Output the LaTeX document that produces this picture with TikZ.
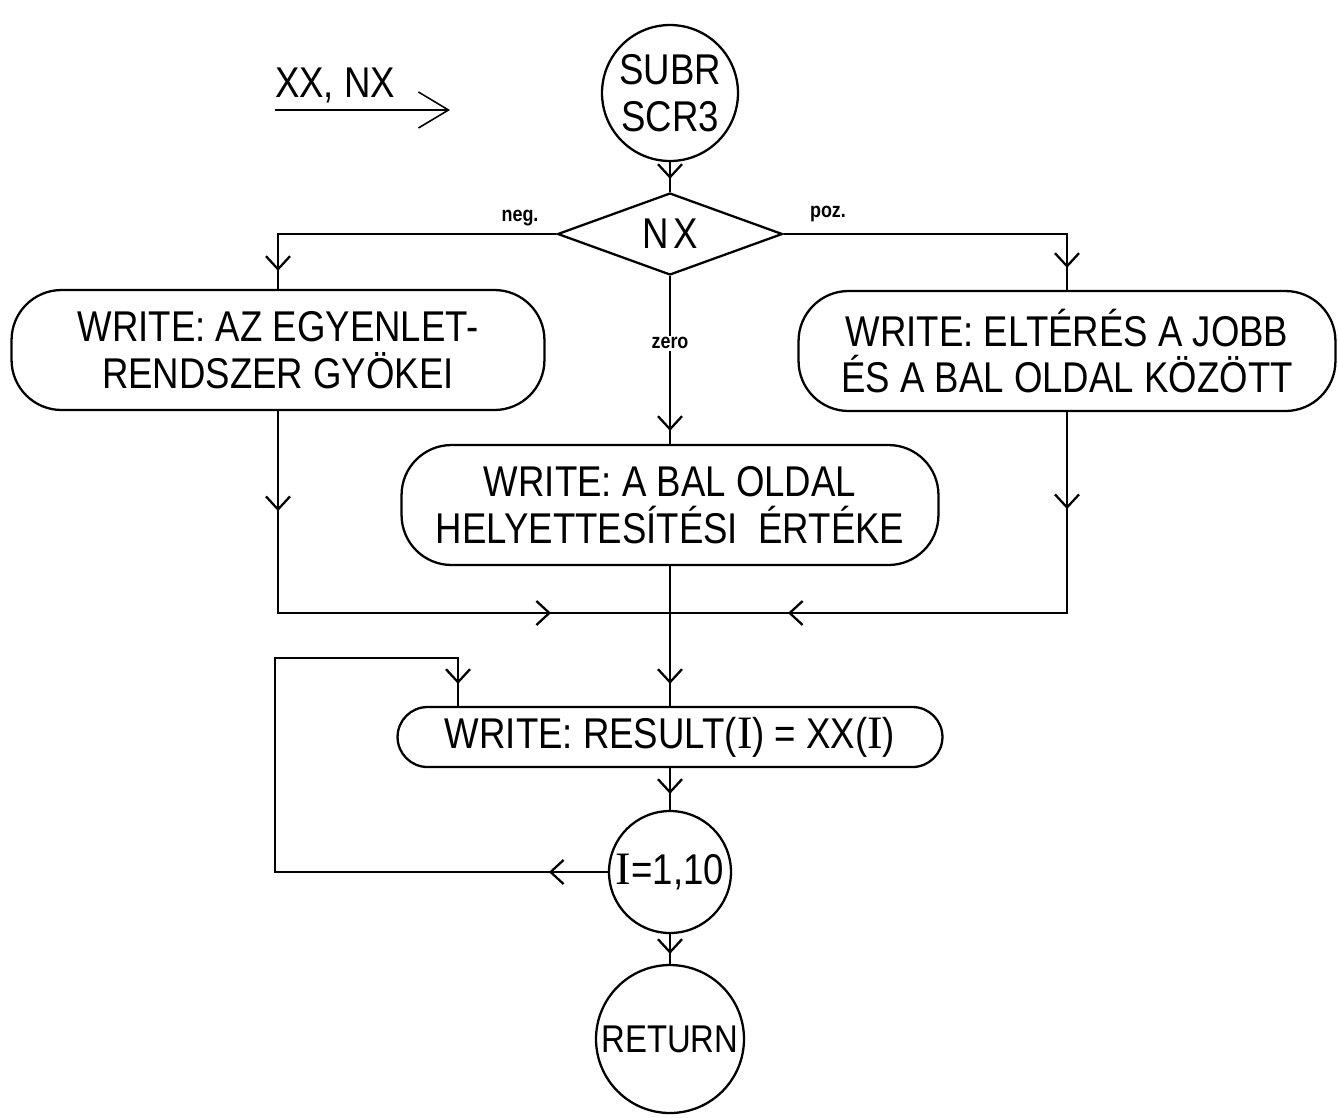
\documentclass[tikz,border=0pt]{standalone}
\usepackage{fontspec}
\setmainfont[FakeStretch=0.85]{Liberation Sans}
\newfontfamily\slabI[Scale=1.08]{Liberation Serif}
\usetikzlibrary{shapes.geometric,arrows.meta,decorations.markings}

\tikzset{
  smallv/.tip={Straight Barb[length=0.26cm,width=0.48cm]},
  arrowat/.style={postaction={decorate,decoration={markings,mark=at position #1 with {\arrow{smallv}}}}},
  wbox/.style={draw, rectangle, rounded corners=1.0cm, minimum width=#1, minimum height=2.4cm, inner sep=0pt},
  term/.style={draw, circle, minimum size=#1, inner sep=0pt},
  cond/.style={draw, diamond, aspect=2.7, minimum width=4.5cm, minimum height=1.64cm, inner sep=0pt},
  brlbl/.style={font=\bfseries\fontsize{12}{14}\selectfont},
}
\newcommand{\sI}{{\slabI I}}

\begin{document}
\begin{tikzpicture}[
  x=0.02cm, y=-0.02cm, line width=1.3pt,
  every node/.style={font=\fontsize{24.5}{26.7}\selectfont, align=center},
]
\useasboundingbox (0,0) rectangle (1338,1117);

% Input parameters
\node (inlbl) at (335,85) {XX, NX};
\coordinate (inA) at (275,110);
\coordinate (inB) at (450,110);
\draw[line width=0.9pt, -{Straight Barb[length=0.6cm,width=0.72cm]}] (inA) -- (inB);

% Main column
\node[term=2.72cm] (subr) at (670,93) {SUBR\\SCR3};
\node[cond] (nx) at (670,234) {N\hspace{0.12em}X};
\node[wbox=10.66cm] (lbox) at (278,350) {WRITE: AZ EGYENLET-\\RENDSZER GYÖKEI};
\node[wbox=10.74cm] (rbox) at (1067,351) {WRITE: ELTÉRÉS A JOBB\\ÉS A BAL OLDAL KÖZÖTT};
\node[wbox=10.74cm] (mbox) at (670,505) {WRITE: A BAL OLDAL\\HELYETTESÍTÉSI\ \ ÉRTÉKE};
\node[wbox=10.9cm, minimum height=1.2cm, rounded corners=0.6cm] (res) at (670,737) {WRITE: RESULT(\sI) = XX(\sI)};
\node[term=2.44cm] (loopc) at (670,872) {\sI=1,10};
\node[term=2.96cm, font=\fontsize{22}{24}\selectfont] (ret) at (670,1039) {RETURN};

% Branch labels
\node[brlbl] (neglbl) at (520,218) {neg.};
\node[brlbl] (pozlbl) at (828,214) {poz.};

% Helper points
\coordinate (merge) at (670,613);
\coordinate (lpB) at (275,658);
\coordinate (lpC) at (458,658);

% Branches of NX
\draw[arrowat=-0.36cm] (nx.west) -| (lbox.north);
\draw[arrowat=-0.44cm] (nx.east) -| (rbox.north);
\draw[arrowat=-0.26cm] (nx.south) -- node[pos=0.4, brlbl, fill=white, inner sep=1pt] (zerolbl) {zero} (mbox.north);

% Join of the three branches
\draw[arrowat=2.0cm, arrowat=9.5cm] (lbox.south) |- (merge);
\draw[arrowat=1.94cm, arrowat=9.6cm] (rbox.south) |- (merge);

% Straight links
\foreach \a/\b/\d in {subr/nx/-0.26cm, mbox/res/-0.44cm, res/loopc/-0.32cm, loopc/ret/-0.2cm}
  \draw[arrowat=\d] (\a.south) -- (\b.north);

% Loop back
\draw[arrowat=1.18cm, arrowat=-0.44cm] (loopc.west) -| (lpB) -- (lpC) -- (lpC |- res.north);

\end{tikzpicture}
\end{document}
